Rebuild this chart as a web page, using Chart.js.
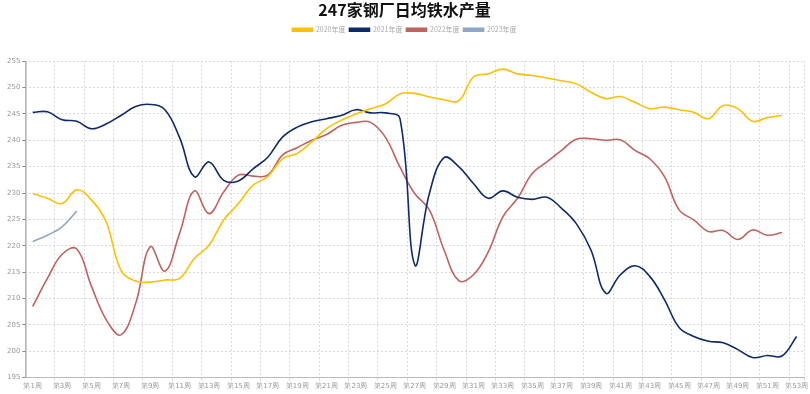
<!DOCTYPE html>
<html>
<head>
<meta charset="utf-8">
<script src="https://cdn.jsdelivr.net/npm/chart.js@4.4.1/dist/chart.umd.min.js"></script>
<style>
  html, body { margin: 0; padding: 0; background: #fff; }
  #wrap { width: 810px; height: 394px; position: relative; }
</style>
</head>
<body>
<div id="wrap"><canvas id="ironChart"></canvas></div>
<script>
// weekly labels 第1周 .. 第53周
const weeks = [];
for (let i = 1; i <= 53; i++) weeks.push('第' + i + '周');

// daily hot metal output, 10k tons
const y2020 = [229.9, 229.0, 228.0, 230.6, 228.7, 224.5, 215.4, 213.3, 213.1, 213.5,
  213.8, 217.6, 220.1, 224.9, 228.0, 231.5, 233.1, 236.5, 237.5, 239.7,
  242.2, 243.8, 245.0, 246.0, 246.9, 248.8, 248.9, 248.2, 247.7, 247.5,
  252.0, 252.6, 253.5, 252.6, 252.3, 251.8, 251.3, 250.7, 249.1, 247.9,
  248.3, 247.2, 246.0, 246.3, 245.8, 245.3, 244.1, 246.6, 246.0, 243.6,
  244.3, 244.7];
const y2021 = [245.3, 245.4, 243.9, 243.6, 242.2, 243.1, 244.7, 246.4, 246.8, 245.8,
  240.5, 233.1, 235.9, 232.4, 232.3, 234.6, 236.8, 240.6, 242.5, 243.5,
  244.1, 244.7, 245.8, 245.2, 245.2, 244.1, 216.4, 229.9, 236.7, 235.0,
  231.8, 229.0, 230.4, 229.2, 228.8, 229.2, 227.1, 224.2, 219.2, 211.0,
  214.5, 216.2, 214.2, 209.8, 204.5, 202.8, 201.9, 201.6, 200.3, 198.8,
  199.2, 199.1, 202.8];
const y2022 = [208.5, 213.8, 218.4, 219.4, 212.3, 206.0, 203.1, 209.0, 219.8, 215.2,
  222.4, 230.4, 226.1, 230.2, 233.4, 233.2, 233.4, 237.2, 238.6, 240.0,
  241.1, 242.8, 243.4, 243.4, 240.6, 234.9, 229.9, 226.8, 219.2, 213.4,
  214.5, 218.8, 225.5, 229.0, 233.7, 235.9, 238.1, 240.2, 240.3, 240.0,
  240.1, 238.1, 236.5, 233.1, 226.8, 224.9, 222.7, 222.9, 221.2, 223.0,
  222.0, 222.5];
const y2023 = [220.8, 222.0, 223.6, 226.6];

const yTicks = { min: 195, max: 255, step: 5 };

const gridColor = '#d9d9d9';
const tickFont = { family: 'DejaVu Sans', size: 7 };

function series(label, data, color) {
  return {
    label: label,
    data: data,
    borderColor: color,
    backgroundColor: color,
    borderWidth: 1.6,
    pointRadius: 0,
    tension: 0.4,
    fill: false,
  };
}

// extra room under the legend, the plot starts lower in the reference
const legendGap = {
  id: 'legendGap',
  beforeInit(chart) {
    const fit = chart.legend.fit;
    chart.legend.fit = function () {
      fit.call(this);
      this.height += 18;
    };
  }
};

// solid left axis line (grid dash comes from border.dash in v4)
const yAxisLine = {
  id: 'yAxisLine',
  afterDatasetsDraw(chart) {
    const { ctx, chartArea } = chart;
    ctx.save();
    ctx.strokeStyle = '#888';
    ctx.lineWidth = 1;
    ctx.beginPath();
    ctx.moveTo(chartArea.left + 0.5, chartArea.top);
    ctx.lineTo(chartArea.left + 0.5, chartArea.bottom);
    ctx.stroke();
    ctx.restore();
  }
};

new Chart(document.getElementById('ironChart'), {
  type: 'line',
  data: {
    labels: weeks,
    datasets: [
      series('2020年度', y2020, '#FFC000'),
      series('2021年度', y2021, '#0F2A6B'),
      series('2022年度', y2022, '#C0625F'),
      series('2023年度', y2023, '#8EA7C6'),
    ]
  },
  options: {
    responsive: true,
    maintainAspectRatio: false,
    animation: false,
    layout: { padding: { left: 5, right: 6, top: 0, bottom: 3 } },
    plugins: {
      title: {
        display: true,
        text: '247家钢厂日均铁水产量',
        color: '#111',
        font: { family: 'Noto Sans CJK SC', size: 16, weight: 'bold' },
        padding: { top: 0, bottom: 3 },
      },
      legend: {
        position: 'top',
        labels: {
          boxWidth: 20,
          boxHeight: 3,
          color: '#aaa',
          font: { family: 'Noto Sans CJK SC', size: 7 },
          padding: 4,
        },
      },
      tooltip: { enabled: false },
    },
    scales: {
      x: {
        offset: true,
        grid: {
          offset: true,
          color: ctx => (ctx.index === undefined || (ctx.index > 0 && ctx.index % 2 === 0)) ? gridColor : 'rgba(0,0,0,0)',
          tickLength: 3,
        },
        border: { color: '#bbb', dash: [2, 2] },
        ticks: {
          autoSkip: false,
          maxRotation: 0,
          padding: 1,
          color: '#999',
          font: tickFont,
          callback: (v, i) => i % 2 === 0 ? weeks[i] : '',
        },
      },
      y: {
        min: yTicks.min,
        max: yTicks.max,
        grid: { color: gridColor, tickLength: 3, tickColor: '#888' },
        border: { display: false, dash: [2, 2] },
        ticks: {
          stepSize: yTicks.step,
          padding: 2,
          color: '#999',
          font: tickFont,
        },
      },
    },
  },
  plugins: [legendGap, yAxisLine]
});
</script>
</body>
</html>
